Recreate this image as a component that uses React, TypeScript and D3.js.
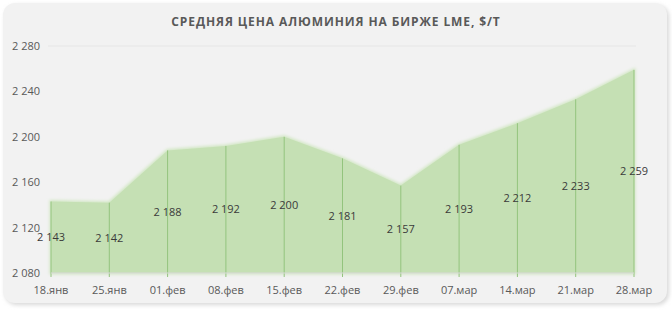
import React from "react";
import * as d3 from "d3";

const categories = ["18.янв", "25.янв", "01.фев", "08.фев", "15.фев", "22.фев", "29.фев", "07.мар", "14.мар", "21.мар", "28.мар"];
const values = [2143, 2142, 2188, 2192, 2200, 2181, 2157, 2193, 2212, 2233, 2259];
const yTicks = [2080, 2120, 2160, 2200, 2240, 2280];
const title = "СРЕДНЯЯ ЦЕНА АЛЮМИНИЯ НА БИРЖЕ LME, $/Т";

const fmt = (v: number) => d3.format(",")(v).replace(/,/g, " ");

export default function App() {
  const W = 672, H = 311;
  const x = d3.scalePoint<string>().domain(categories).range([51, 634]);
  const y = d3.scaleLinear().domain([2080, 2280]).range([273, 46]);
  const data = categories.map((c, i) => ({ c, v: values[i] }));
  const area = d3.area<{ c: string; v: number }>()
    .x(d => x(d.c)!)
    .y0(y(2080))
    .y1(d => y(d.v));
  const font = "'Open Sans', 'Noto Sans', sans-serif";
  return (
    <svg width={W} height={H} style={{ position: "absolute", left: 0, top: 0 }}>
      <defs>
        <filter id="soft" x="-5%" y="-10%" width="110%" height="120%">
          <feGaussianBlur stdDeviation="1.5" />
        </filter>
        <filter id="shadow" x="-5%" y="-5%" width="110%" height="110%">
          <feGaussianBlur stdDeviation="2" />
        </filter>
      </defs>
      <rect x={0} y={0} width={W} height={H} fill="#ffffff" />
      <rect x={5} y={5} width={664} height={300} rx={12} fill="#d8d8d8" filter="url(#shadow)" />
      <rect x={3} y={3} width={664} height={300} rx={12} fill="#f2f2f2" />
      <text x={336} y={26} textAnchor="middle" fontFamily={font} fontSize={12} fontWeight={700} fill="#595959" letterSpacing={0.9}>{title}</text>
      {yTicks.map(t => (
        <g key={t}>
          {t === 2280 && <line x1={48} x2={636} y1={y(t)} y2={y(t)} stroke="#e6e6e6" strokeWidth={1} />}
          <text x={12} y={y(t) + 4} fontFamily={font} fontSize={11} fill="#595959">{fmt(t)}</text>
        </g>
      ))}
      <path d={area(data)!} fill="#d2e7c4" stroke="#d2e7c4" strokeWidth={3} filter="url(#soft)" />
      <path d={area(data)!} fill="#c5e0b4" />
      {data.map(d => (
        <line key={"l" + d.c} x1={x(d.c)} x2={x(d.c)} y1={y(d.v)} y2={y(2080) + 4} stroke="#93c47d" strokeWidth={1} />
      ))}
      <line x1={51} x2={634} y1={y(2080)} y2={y(2080)} stroke="#d9d9d9" strokeWidth={1} />
      {data.map(d => (
        <text key={"v" + d.c} x={x(d.c)} y={(y(d.v) + y(2080)) / 2 + 4} textAnchor="middle" fontFamily={font} fontSize={11} fill="#3a3a3a">{fmt(d.v)}</text>
      ))}
      {categories.map(c => (
        <text key={"x" + c} x={x(c)} y={294} textAnchor="middle" fontFamily={font} fontSize={11} fill="#595959">{c}</text>
      ))}
    </svg>
  );
}
